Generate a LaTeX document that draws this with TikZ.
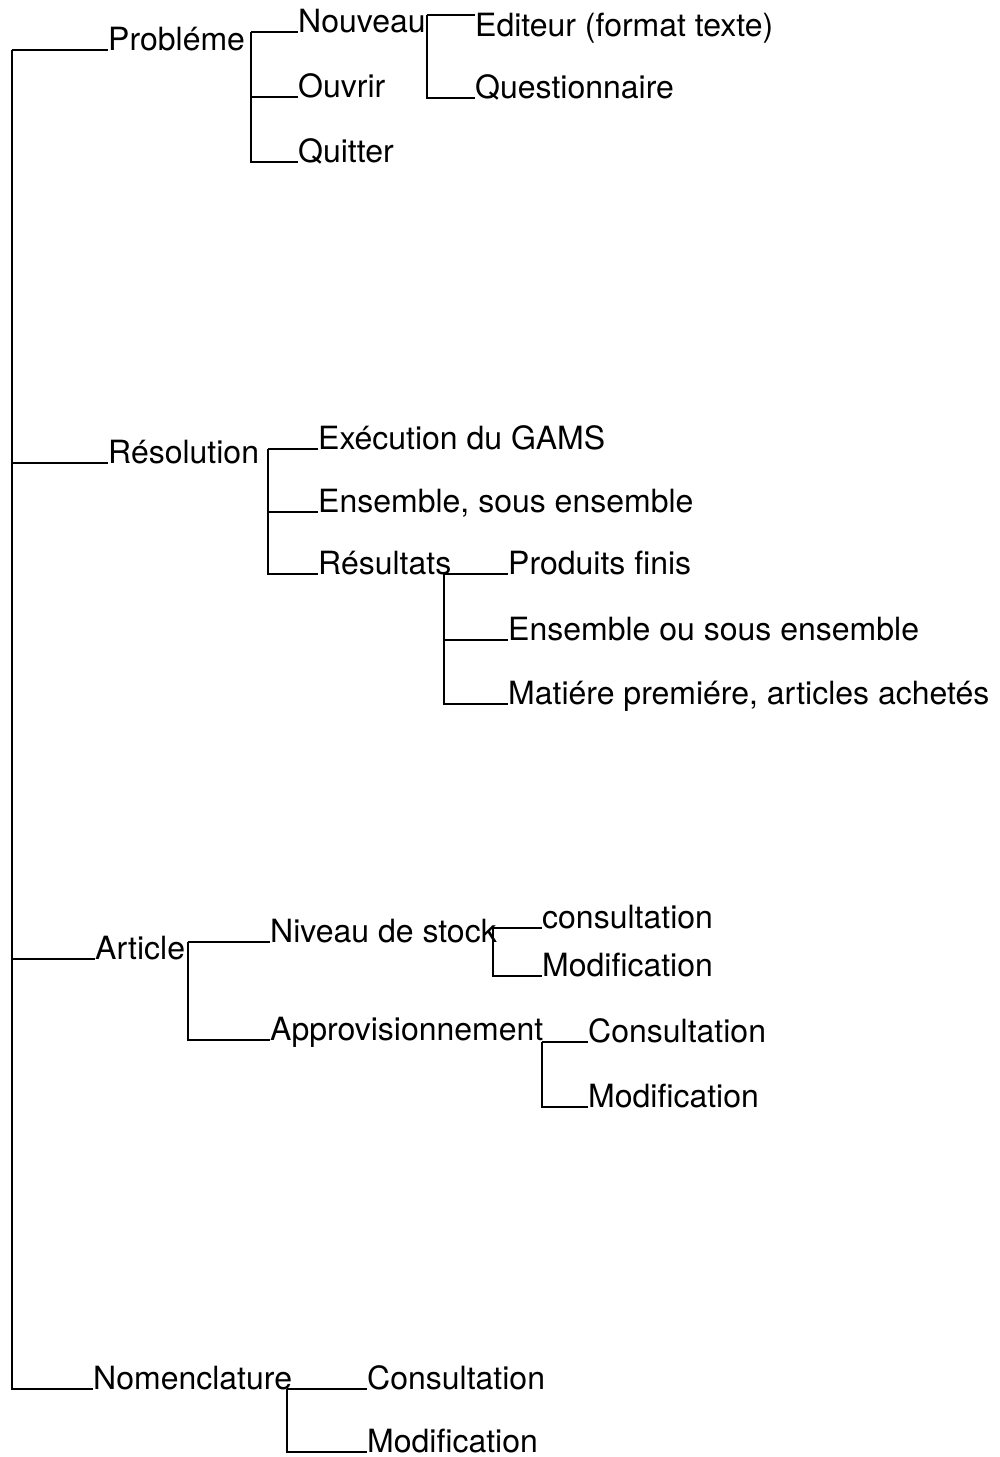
\documentclass[tikz,border=0pt]{standalone}
\usepackage{fontspec}
\setmainfont{TeX Gyre Heros}
\begin{document}
\begin{tikzpicture}[x=1pt,y=-1pt,
  lbl/.style={anchor=base west, inner sep=0pt, font=\fontsize{32}{38}\selectfont},
  wire/.style={line width=2.2pt}]
\useasboundingbox (0,0) rectangle (1000,1457);

% ---- menu entries ----
\node[lbl] (prob)   at (108,50)  {Probléme};
\node[lbl] (nouv)   at (298,32)  {Nouveau};
\node[lbl] (ouvr)   at (298,97)  {Ouvrir};
\node[lbl] (quit)   at (298,162) {Quitter};
\node[lbl] (edit)   at (475,36)  {Editeur (format texte)};
\node[lbl] (quest)  at (475,98)  {Questionnaire};

\node[lbl] (reso)   at (108,463) {Résolution};
\node[lbl] (exec)   at (318,449) {Exécution du GAMS};
\node[lbl] (ens)    at (318,512) {Ensemble, sous ensemble};
\node[lbl] (resu)   at (318,574) {Résultats};
\node[lbl] (prod)   at (508,574) {Produits finis};
\node[lbl] (ensou)  at (508,640) {Ensemble ou sous ensemble};
\node[lbl] (mat)    at (508,704) {Matiére premiére, articles achetés};

\node[lbl] (art)    at (95,959)   {Article};
\node[lbl] (niv)    at (270,942)  {Niveau de stock};
\node[lbl] (appro)  at (270,1040) {Approvisionnement};
\node[lbl] (nconsu) at (542,928)  {consultation};
\node[lbl] (nmodif) at (542,976)  {Modification};
\node[lbl] (aconsu) at (588,1042) {Consultation};
\node[lbl] (amodif) at (588,1107) {Modification};

\node[lbl] (nomen)  at (93,1389)  {Nomenclature};
\node[lbl] (mconsu) at (367,1389) {Consultation};
\node[lbl] (mmodif) at (367,1452) {Modification};

% ---- bracket corners ----
\coordinate (root) at (12,50);
\coordinate (pb)   at (251,32);
\coordinate (nb)   at (427,15);
\coordinate (rb)   at (268,449);
\coordinate (rsb)  at (444,574);
\coordinate (ab)   at (188,942);
\coordinate (nsb)  at (493,928);
\coordinate (apb)  at (542,1042);
\coordinate (nmb)  at (287,1389);

% ---- tree lines ----
\draw[wire] (root) -- (prob.base west);
\draw[wire] (root) |- (reso.base west);
\draw[wire] (root) |- (art.base west);
\draw[wire] (root) |- (nomen.base west);

\draw[wire] (pb) -- (nouv.base west);
\draw[wire] (pb) |- (ouvr.base west);
\draw[wire] (pb) |- (quit.base west);

\draw[wire] (nb) -- (nb -| edit.west);
\draw[wire] (nb) |- (quest.base west);

\draw[wire] (rb) -- (exec.base west);
\draw[wire] (rb) |- (ens.base west);
\draw[wire] (rb) |- (resu.base west);

\draw[wire] (rsb) -- (prod.base west);
\draw[wire] (rsb) |- (ensou.base west);
\draw[wire] (rsb) |- (mat.base west);

\draw[wire] (ab) -- (niv.base west);
\draw[wire] (ab) |- (appro.base west);

\draw[wire] (nsb) -- (nconsu.base west);
\draw[wire] (nsb) |- (nmodif.base west);

\draw[wire] (apb) -- (aconsu.base west);
\draw[wire] (apb) |- (amodif.base west);

\draw[wire] (nmb) -- (mconsu.base west);
\draw[wire] (nmb) |- (mmodif.base west);
\end{tikzpicture}
\end{document}
